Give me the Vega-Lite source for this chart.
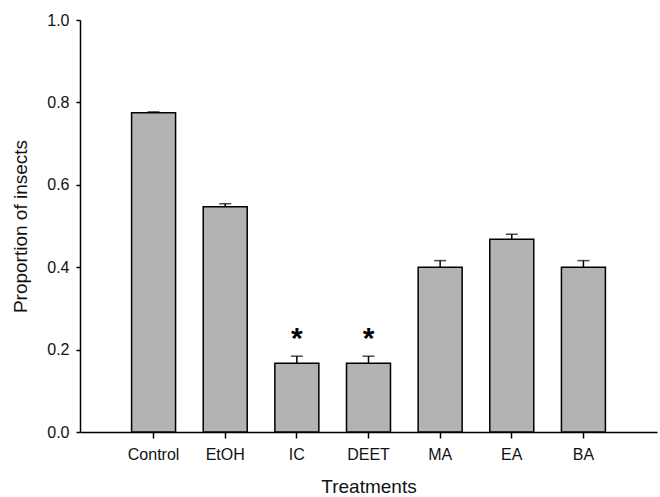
{
  "$schema": "https://vega.github.io/schema/vega-lite/v6.json",
  "width": 577,
  "height": 412,
  "autosize": {"type": "none"},
  "padding": {"left": 80, "top": 20, "right": 3, "bottom": 65},
  "background": "white",
  "config": {
    "view": {"stroke": null},
    "font": "Liberation Sans",
    "axis": {"grid": false, "domainColor": "#000", "tickColor": "#000", "labelColor": "#111", "titleColor": "#111", "labelFont": "Liberation Sans", "titleFont": "Liberation Sans", "titleFontWeight": "normal", "domainWidth": 1.5, "tickWidth": 1.5}
  },
  "data": {
    "values": [
      {"treatment": "Control", "mean": 0.775, "hi": 0.777, "sig": ""},
      {"treatment": "EtOH", "mean": 0.547, "hi": 0.554, "sig": ""},
      {"treatment": "IC", "mean": 0.167, "hi": 0.184, "sig": "*"},
      {"treatment": "DEET", "mean": 0.167, "hi": 0.184, "sig": "*"},
      {"treatment": "MA", "mean": 0.400, "hi": 0.416, "sig": ""},
      {"treatment": "EA", "mean": 0.468, "hi": 0.480, "sig": ""},
      {"treatment": "BA", "mean": 0.400, "hi": 0.416, "sig": ""}
    ]
  },
  "encoding": {
    "x": {
      "field": "treatment", "type": "nominal", "sort": null,
      "scale": {"paddingInner": 0.386, "paddingOuter": 0.72},
      "axis": {"title": "Treatments", "labelAngle": 0, "labelFontSize": 16, "titleFontSize": 19, "tickSize": 6, "labelPadding": 8, "titlePadding": 15}
    }
  },
  "layer": [
    {
      "mark": {"type": "rule", "color": "#000", "strokeWidth": 1.5},
      "encoding": {
        "y": {"field": "mean", "type": "quantitative"},
        "y2": {"field": "hi"}
      }
    },
    {
      "mark": {"type": "tick", "color": "#000", "size": 12, "thickness": 1.5, "orient": "horizontal"},
      "encoding": {
        "y": {"field": "hi", "type": "quantitative"}
      }
    },
    {
      "mark": {"type": "bar", "fill": "#b3b3b3", "stroke": "#000", "strokeWidth": 1.5},
      "encoding": {
        "y": {
          "field": "mean", "type": "quantitative",
          "scale": {"domain": [0, 1]},
          "axis": {"title": "Proportion of insects", "values": [0, 0.2, 0.4, 0.6, 0.8, 1.0], "format": ".1f", "labelFontSize": 16, "titleFontSize": 19, "tickSize": 4, "labelPadding": 7, "titlePadding": 16}
        }
      }
    },
    {
      "mark": {"type": "text", "fontSize": 30, "fontWeight": "bold", "baseline": "alphabetic", "dy": -8, "color": "#000"},
      "encoding": {
        "y": {"field": "hi", "type": "quantitative"},
        "text": {"field": "sig"}
      }
    }
  ]
}
